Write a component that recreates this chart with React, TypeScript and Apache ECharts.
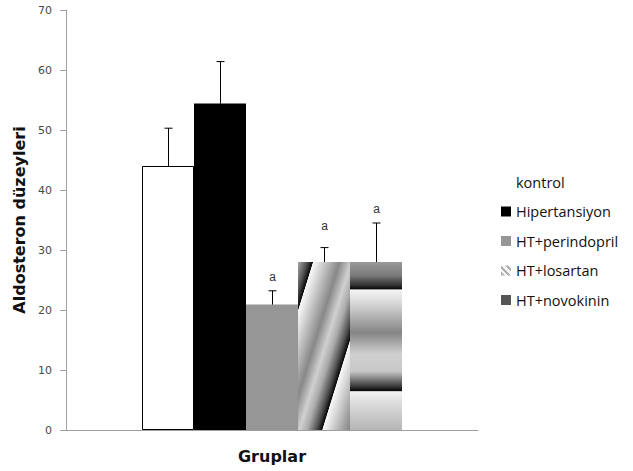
import React, { useEffect, useRef } from 'react';
import * as echarts from 'echarts';

// ---- data ----
const categories = ['kontrol', 'Hipertansiyon', 'HT+perindopril', 'HT+losartan', 'HT+novokinin'];
const meanValues = [44.0, 54.4, 20.9, 28.0, 28.0];
const errorTops = [50.3, 61.4, 23.2, 30.4, 34.5];
const letterMarks = ['', '', 'a', 'a', 'a'];
const letterValues = [0, 0, 25.45, 34.0, 36.8];
const yMin = 0;
const yMax = 70;
const yInterval = 10;

// ---- styles ----
const BAR_W = 52;

const losartanFill = {
  type: 'linear', x: 0, y: 0, x2: 1, y2: 1,
  colorStops: [
    { offset: 0, color: '#a8a8a8' },
    { offset: 0.088, color: '#505050' },
    { offset: 0.141, color: '#080808' },
    { offset: 0.1475, color: '#f8f8f8' },
    { offset: 0.206, color: '#e0e0e0' },
    { offset: 0.40, color: '#888888' },
    { offset: 0.512, color: '#d0d0d0' },
    { offset: 0.588, color: '#aaaaaa' },
    { offset: 0.676, color: '#505050' },
    { offset: 0.729, color: '#080808' },
    { offset: 0.736, color: '#f8f8f8' },
    { offset: 0.794, color: '#e0e0e0' },
    { offset: 0.988, color: '#888888' },
    { offset: 1, color: '#8a8a8a' },
  ],
};

const novokininFill = {
  type: 'linear', x: 0, y: 0, x2: 0, y2: 1,
  colorStops: [
    { offset: 0, color: '#9a9a9a' },
    { offset: 0.08, color: '#7a7a7a' },
    { offset: 0.14, color: '#303030' },
    { offset: 0.16, color: '#0a0a0a' },
    { offset: 0.166, color: '#f4f4f4' },
    { offset: 0.25, color: '#d6d6d6' },
    { offset: 0.42, color: '#858585' },
    { offset: 0.55, color: '#d0d0d0' },
    { offset: 0.65, color: '#c8c8c8' },
    { offset: 0.74, color: '#3a3a3a' },
    { offset: 0.765, color: '#0a0a0a' },
    { offset: 0.772, color: '#f2f2f2' },
    { offset: 0.85, color: '#dadada' },
    { offset: 1, color: '#b5b5b5' },
  ],
};

const hatchIcon = {
  type: 'linear', x: 0, y: 1, x2: 1, y2: 0,
  colorStops: [
    { offset: 0, color: '#b0b0b0' }, { offset: 0.18, color: '#b0b0b0' },
    { offset: 0.18, color: '#f4f4f4' }, { offset: 0.34, color: '#f4f4f4' },
    { offset: 0.34, color: '#b0b0b0' }, { offset: 0.52, color: '#b0b0b0' },
    { offset: 0.52, color: '#f4f4f4' }, { offset: 0.68, color: '#f4f4f4' },
    { offset: 0.68, color: '#b0b0b0' }, { offset: 0.86, color: '#b0b0b0' },
    { offset: 0.86, color: '#f4f4f4' }, { offset: 1, color: '#f4f4f4' },
  ],
};

const barStyles: any[] = [
  { color: '#ffffff', borderColor: '#000000', borderWidth: 1 },
  { color: '#000000' },
  { color: '#969696' },
  { color: losartanFill },
  { color: novokininFill },
];

export default function App() {
  const ref = useRef<HTMLDivElement>(null);

  useEffect(() => {
    const chart = echarts.init(ref.current!, null, { renderer: 'svg' });

    const barSeries = categories.map((name, i) => ({
      name,
      type: 'bar',
      data: [meanValues[i]],
      barWidth: BAR_W,
      barGap: '0%',
      itemStyle: barStyles[i],
      z: 2,
    }));

    const errData = categories.map((_, i) => [0, meanValues[i], errorTops[i], letterValues[i], i]);

    const errSeries = {
      type: 'custom',
      name: 'err',
      z: 5,
      encode: { x: 0, y: 2 },
      data: errData,
      renderItem: (params: any, api: any) => {
        const idx = api.value(4);
        const base = api.coord([0, api.value(1)]);
        const top = api.coord([0, api.value(2)]);
        const cx = Math.round(base[0] + (idx - (categories.length - 1) / 2) * BAR_W) + 0.5;
        const children: any[] = [
          { type: 'line', shape: { x1: cx, y1: base[1], x2: cx, y2: top[1] }, style: { stroke: '#000', lineWidth: 1 } },
          { type: 'line', shape: { x1: cx - 4, y1: top[1], x2: cx + 4, y2: top[1] }, style: { stroke: '#000', lineWidth: 1 } },
        ];
        const mark = letterMarks[idx];
        if (mark) {
          const lp = api.coord([0, api.value(3)]);
          children.push({
            type: 'text',
            x: cx,
            y: lp[1],
            style: {
              text: mark,
              align: 'center',
              verticalAlign: 'middle',
              fontSize: 12,
              fontFamily: 'Liberation Sans, Arial, sans-serif',
              fill: '#333',
            },
          });
        }
        return { type: 'group', children };
      },
    };

    const nameFont = { fontSize: 16, fontWeight: 'bold', color: '#111', fontFamily: 'DejaVu Sans, sans-serif' };

    const option: any = {
      animation: false,
      backgroundColor: '#ffffff',
      grid: { left: 66, right: 155, top: 10, bottom: 41, outerBoundsMode: 'none', containLabel: false },
      legend: {
        orient: 'vertical',
        left: 501,
        top: 174,
        padding: 0,
        icon: 'rect',
        itemWidth: 10,
        itemHeight: 10,
        itemGap: 13.5,
        textStyle: {
          fontSize: 14.5,
          fontFamily: 'Open Sans, sans-serif',
          color: '#111',
          lineHeight: 16,
        },
        data: [
          { name: 'kontrol', itemStyle: { color: '#ffffff', borderWidth: 0 } },
          { name: 'Hipertansiyon' },
          { name: 'HT+perindopril' },
          { name: 'HT+losartan', itemStyle: { color: hatchIcon } },
          { name: 'HT+novokinin', itemStyle: { color: '#555555' } },
        ],
      },
      xAxis: {
        type: 'category',
        data: [''],
        name: 'Gruplar',
        nameLocation: 'middle',
        nameGap: 18,
        nameTextStyle: nameFont,
        axisLine: { lineStyle: { color: '#a0a0a0', width: 1 } },
        axisTick: { show: false },
        axisLabel: { show: false },
      },
      yAxis: {
        type: 'value',
        min: yMin,
        max: yMax,
        interval: yInterval,
        name: 'Aldosteron düzeyleri',
        nameLocation: 'middle',
        nameGap: 34,
        nameTextStyle: nameFont,
        axisLine: { show: true, lineStyle: { color: '#a0a0a0', width: 1 } },
        axisTick: { show: true, length: 6, lineStyle: { color: '#a0a0a0' } },
        axisLabel: { margin: 14, fontSize: 11, color: '#4a4a4a', fontFamily: 'DejaVu Sans, sans-serif' },
        splitLine: { show: false },
      },
      series: [...barSeries, errSeries],
    };

    chart.setOption(option);
    return () => chart.dispose();
  }, []);

  return <div ref={ref} style={{ position: 'fixed', left: 0, top: 0, width: 633, height: 471 }} />;
}
